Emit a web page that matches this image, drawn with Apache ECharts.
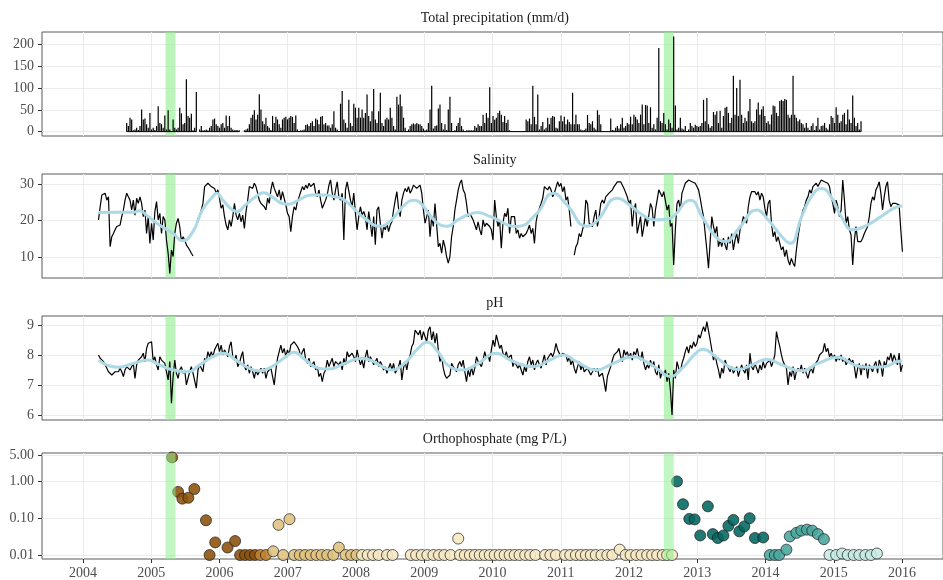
<!DOCTYPE html>
<html><head><meta charset="utf-8">
<script src="https://cdn.jsdelivr.net/npm/echarts@6/dist/echarts.min.js"></script>
<style>html,body{margin:0;padding:0;background:#fff}#chart{width:943px;height:580px}</style>
</head><body><div id="chart"></div>
<script>
// ---------------- data ----------------
const yearTicks = [2004,2005,2006,2007,2008,2009,2010,2011,2012,2013,2014,2015,2016];
const panelTitles = ['Total precipitation (mm/d)', 'Salinity', 'pH', 'Orthophosphate (mg P/L)'];
const precipTicks = [0, 50, 100, 150, 200];
const salinityTicks = [10, 20, 30];
const phTicks = [6, 7, 8, 9];
const phosTicks = [0.01, 0.1, 1, 5];

// storm event windows (decimal years)
const eventStart = [2005.21, 2012.51];
const eventEnd = [2005.355, 2012.655];

// regular sampling of the daily records (years between samples, ~8.9 days)
const sampleStep = 0.024284;

const precipStart = 2004.641;
const precip = [
20,13,32,28,3,5,9,4,13,51,
28,30,17,9,43,5,9,4,13,58,
20,17,9,37,5,49,5,1.5,28,9,
5,9,55,42,17,20,120,36,32,41,
3,9,91,null,5,13,3,3,5,3,
9,13,28,30,17,13,9,17,20,9,
37,13,36,9,5,3,4,3,3,null,
null,3,5,7,17,32,39,49,28,39,
86,51,24,17,32,13,9,4,36,20,
34,28,17,9,28,32,34,28,32,36,
34,20,37,5,1.5,3,3,5,15,17,
13,20,24,13,30,27,17,34,36,17,
20,14,14,9,17,47,9,5,1.5,64,
93,28,20,9,73,20,13,64,55,32,
55,32,51,32,43,85,36,24,47,98,
28,20,47,89,20,13,28,32,28,55,
32,13,5,80,62,85,58,32,9,1.5,
5,13,17,19,17,20,17,17,13,7,
3,5,20,51,105,7,13,14,53,62,
20,5,17,4,51,80,20,1.5,3,13,
20,32,13,5,1.5,3,3,3,3,3,
13,9,17,
13,13,39,20,43,32,102,20,36,27,32,43,48,39,22,36,20,27,3,
1.5,1.5,1.5,1.5,1.5,1.5,1.5,1.5,1.5,
28,24,30,17,105,34,17,85,5,13,
22,5,9,32,17,32,36,34,9,7,
24,37,24,34,17,28,22,17,89,17,
39,17,17,5,3,4,7,38,20,17,
24,9,5,49,
39,17,1.5,1.5,1.5,1.5,1.5,30,4,3,
9,13,7,17,32,9,13,20,17,34,
17,39,34,28,20,39,62,17,61,60,
20,56,9,17,5,32,192,24,20,43,
17,5,28,20,9,218,60,5,9,32,
7,5,13,1.5,5,20,13,9,16,13,
11,13,20,73,24,77,17,9,13,45,
39,47,20,48,9,36,55,57,43,20,
32,128,39,100,36,119,39,20,32,24,
47,75,24,20,24,51,67,39,51,58,
36,20,24,17,39,60,58,43,36,70,
73,70,75,73,39,32,39,128,39,32,
24,28,20,17,9,20,9,4,13,19,
4,13,32,5,13,14,20,9,5,17,
36,32,20,56,39,20,24,39,43,17,
51,28,20,83,32,13,20,5,24
];

const salinityStart = 2004.228;
const salinity = [
20.2,23.8,27.0,26.5,27.5,25.6,26.5,12.9,15.6,16.5,
17.5,18.4,17.9,18.8,21.1,22.9,25.6,27.5,26.5,25.6,
22.9,25.6,21.5,26.1,24.7,26.5,24.7,21.1,22.9,16.5,
21.1,13.8,19.3,14.7,22.5,25.2,20.2,22.0,16.5,21.1,
20.2,14.7,11.1,5.6,12.0,10.2,16.5,19.3,20.6,18.4,
14.3,15.6,14.7,13.4,12.9,12.0,11.1,10.4,null,18.8,
20.6,21.5,22.9,24.7,29.3,28.8,30.2,30.6,29.3,29.7,
28.8,27.5,28.4,26.1,23.4,24.3,21.1,18.8,17.5,20.2,
18.4,21.1,24.7,21.5,20.2,22.0,19.7,21.5,17.9,22.5,
25.6,29.3,29.7,28.8,30.2,29.3,27.5,25.6,24.7,25.2,
23.8,22.9,26.1,24.7,28.4,30.6,28.8,29.3,26.5,28.4,
25.6,27.9,27.5,24.3,22.0,21.1,17.0,21.1,23.8,22.9,
25.2,26.5,27.9,29.3,28.4,29.7,28.8,30.2,29.3,28.8,
30.2,27.5,26.5,28.4,25.6,23.4,22.9,25.6,27.0,29.7,
31.1,27.5,25.6,28.4,30.6,26.5,25.6,27.5,14.7,28.4,
30.6,31.1,25.6,23.8,27.5,22.0,17.5,21.1,23.8,21.5,
22.5,21.1,17.5,22.5,19.3,15.6,21.1,13.4,22.9,23.8,
19.3,15.2,18.4,17.5,19.3,17.0,18.8,19.7,22.9,25.6,
27.9,23.4,21.1,25.6,27.5,28.8,27.9,29.3,27.5,28.4,
29.7,29.3,28.8,28.4,29.7,27.5,22.9,19.3,18.8,22.9,
15.6,21.1,18.4,24.7,25.2,12.9,13.8,11.1,14.7,12.9,
10.2,8.4,10.2,15.6,18.4,22.9,25.6,28.4,30.2,31.1,
28.4,27.5,24.7,21.1,22.0,21.1,20.2,19.7,17.5,19.7,
17.5,16.1,20.2,18.4,19.3,19.7,18.4,17.5,14.7,25.6,
21.1,18.4,20.2,12.5,19.3,22.0,21.1,23.4,16.5,21.1,
21.5,21.1,16.5,17.5,15.2,16.5,15.6,16.1,16.5,17.5,
18.8,16.5,17.9,13.8,19.7,22.0,23.4,24.7,26.1,29.3,
29.7,28.4,29.3,28.4,26.5,27.5,27.9,30.6,29.3,30.2,
27.9,29.3,25.6,26.5,22.9,18.4,null,10.6,12.9,13.8,
16.5,15.6,17.5,19.3,25.6,24.7,19.3,19.7,18.4,21.1,
22.9,18.4,21.1,24.7,25.6,24.7,26.5,27.0,27.5,27.0,
28.4,29.3,29.7,30.6,31.1,30.6,30.2,28.8,29.3,26.5,
24.7,25.6,18.4,22.9,24.7,16.5,17.0,21.1,15.6,16.1,
21.1,18.4,21.5,24.7,23.4,18.4,22.9,25.6,28.4,27.5,
26.5,27.9,27.5,22.9,24.3,18.4,19.3,7.9,17.5,24.7,
25.6,22.9,27.5,28.8,30.2,30.6,31.1,31.1,30.6,30.6,
30.2,29.3,28.4,26.1,23.4,21.1,16.5,12.0,7.0,14.3,
21.1,18.4,16.5,18.4,12.9,14.7,12.9,15.2,13.4,12.0,
15.6,13.8,16.5,12.0,14.7,16.5,13.8,17.5,18.8,21.1,
21.1,19.3,23.8,26.5,27.9,27.5,27.9,27.0,27.9,25.6,
27.5,26.5,23.4,21.1,24.7,25.6,19.3,15.6,17.0,14.3,
15.6,13.8,12.0,12.9,10.2,12.0,9.3,7.9,9.7,8.4,
7.5,12.0,15.6,18.4,21.1,22.9,23.8,25.6,26.5,28.4,
27.5,29.3,28.8,30.2,29.3,30.2,31.1,31.5,30.6,31.1,
30.2,29.3,26.5,24.7,22.0,25.6,23.8,21.1,22.9,31.1,
25.6,19.3,21.1,17.5,16.1,7.9,14.7,18.4,14.3,14.7,
14.3,15.2,16.5,16.5,18.4,21.1,24.7,26.5,25.6,28.4,
29.3,30.6,27.5,22.9,26.5,29.3,30.6,25.6,23.8,24.7,
24.3,24.7,24.3,24.3,17.5,11.5
];

const phStart = 2004.228;
const ph = [
8.00,7.89,7.94,7.78,7.67,7.56,7.44,7.50,7.33,7.39,
7.44,7.50,7.44,7.56,7.44,7.28,7.50,7.61,7.67,7.50,
7.61,7.72,7.22,7.67,7.83,7.78,7.94,8.06,7.78,8.22,
8.39,8.33,8.44,7.78,7.94,7.67,7.50,7.94,7.83,7.89,
7.72,7.44,7.17,7.78,6.39,7.28,7.83,7.39,7.22,7.50,
7.61,7.39,7.50,7.00,7.22,7.44,7.61,7.39,7.33,6.89,
7.50,7.67,7.72,7.44,7.89,7.78,8.11,7.94,8.11,7.94,
8.17,8.28,8.39,8.11,8.33,8.00,8.17,8.06,7.94,8.28,
8.44,7.94,7.83,8.00,7.61,7.72,7.94,8.11,7.61,7.50,
7.67,7.39,7.61,7.44,7.22,7.50,7.33,7.44,7.56,7.39,
7.56,7.22,7.44,7.39,7.56,7.61,7.00,7.50,7.89,8.11,
8.33,8.06,8.22,7.94,8.17,8.00,8.33,8.28,8.44,8.50,
8.28,8.17,7.94,8.11,8.22,7.83,7.72,7.89,7.61,7.67,
7.78,7.50,7.61,7.28,7.39,7.11,7.39,7.50,7.83,7.61,
7.67,7.89,7.61,7.78,7.83,7.67,7.78,7.50,7.89,7.67,
8.11,7.94,8.00,8.06,7.94,7.78,8.17,7.89,7.67,7.83,
7.56,7.94,8.17,7.78,7.94,8.00,7.67,7.78,7.89,7.61,
7.78,7.67,7.50,7.61,7.39,7.56,7.72,7.50,7.72,7.39,
7.50,7.61,7.83,7.17,7.56,7.78,7.50,7.83,8.00,8.28,
8.39,8.83,8.89,8.67,8.83,8.50,8.78,8.72,8.44,8.83,
8.94,8.50,8.78,8.39,8.72,8.17,7.78,7.94,7.56,7.33,
7.22,7.28,7.33,7.72,7.61,7.61,7.44,7.67,7.78,7.61,
7.83,7.44,7.11,7.50,7.28,7.61,7.33,7.56,7.94,7.78,
7.78,7.61,7.83,8.11,7.89,8.00,7.78,8.17,8.50,8.28,
8.67,8.72,8.22,8.33,8.06,7.94,8.11,7.89,7.83,8.00,
7.61,7.78,7.72,7.56,7.67,7.50,7.33,7.61,7.44,7.78,
7.94,7.67,7.83,7.50,7.72,7.83,7.67,7.56,7.78,8.00,
7.67,7.89,7.89,8.06,7.94,8.11,8.39,8.17,8.22,7.94,
8.06,8.06,8.00,7.78,7.94,7.67,7.83,7.56,7.39,7.61,
7.78,7.50,7.67,7.44,7.50,7.56,7.61,7.33,7.44,7.56,
7.44,7.56,7.28,7.33,7.39,7.11,6.78,7.28,7.33,7.61,
7.83,8.00,7.94,8.11,8.22,7.94,7.78,8.17,8.00,8.11,
7.89,8.06,7.83,8.11,8.00,8.22,7.94,7.83,8.11,7.72,
7.50,7.67,7.56,7.83,7.61,7.78,7.44,7.33,7.67,7.22,
7.44,7.33,7.50,7.11,7.39,6.83,6.00,7.50,7.22,7.78,
7.56,7.44,7.72,7.89,8.11,8.28,8.06,8.33,8.22,8.44,
8.28,8.39,8.67,8.56,8.78,8.94,8.78,9.11,9.17,8.50,
8.17,7.83,8.00,7.72,7.50,7.22,7.56,7.39,7.83,7.67,
7.72,7.44,7.61,7.39,7.50,7.61,7.28,7.50,7.67,7.50,
7.39,7.67,7.17,8.06,7.61,7.50,7.72,7.56,7.39,7.67,
7.50,7.78,7.56,7.72,7.67,7.83,7.61,7.78,8.00,8.78,
8.50,8.28,8.00,7.78,7.83,7.56,7.00,7.44,7.28,7.61,
7.17,7.44,7.56,7.44,7.67,7.39,7.56,7.50,7.22,7.44,
7.56,7.39,7.67,7.72,7.83,8.00,7.94,8.11,8.39,8.11,
8.22,7.94,8.06,7.89,8.00,7.78,7.94,7.83,8.00,7.78,
7.89,7.67,7.78,7.89,7.72,7.83,7.61,7.22,7.56,7.72,
7.33,7.67,7.50,7.72,7.22,7.67,7.61,7.44,7.67,7.78,
7.39,7.83,7.67,7.28,7.78,7.61,7.94,7.83,8.06,7.78,
8.00,7.94,7.67,8.06,7.44,7.67
];

// smoothed trends (light blue curves)
const salinityTrendYears = [2004.23,2004.49,2004.74,2004.83,2004.93,2005.12,2005.32,2005.46,2005.61,2005.75,2005.90,2005.96,2006.05,2006.19,2006.26,2006.38,2006.53,2006.65,2006.77,2006.92,2007.02,2007.16,2007.35,2007.55,2007.69,2007.79,2007.94,2008.13,2008.35,2008.52,2008.71,2008.86,2008.95,2009.10,2009.24,2009.34,2009.49,2009.63,2009.78,2009.97,2010.36,2010.65,2010.89,2011.09,2011.38,2011.52,2011.83,2012.01,2012.20,2012.40,2012.59,2012.90,2013.07,2013.27,2013.41,2013.61,2013.87,2014.04,2014.24,2014.36,2014.53,2014.67,2014.82,2014.96,2015.11,2015.28,2015.45,2015.69,2015.93,2016.0];
const salinityTrend = [22.2,22.3,22.3,22.7,21.5,18.8,16.5,14.5,17.0,22.9,26.5,27.5,25.6,22.9,22.5,24.3,26.5,27.6,26.5,24.7,24.5,25.6,27.0,27.0,26.5,26.1,23.8,20.6,18.5,20.2,24.3,25.6,24.7,21.1,18.8,18.5,20.2,21.5,22.2,21.1,18.4,22.0,27.5,24.3,18.5,19.7,26.1,24.3,21.5,20.2,20.6,25.6,21.1,15.6,14.3,17.9,22.9,20.2,15.6,13.8,21.1,26.5,28.8,26.5,21.1,17.5,18.4,21.1,23.8,24.0];
const phTrendYears = [2004.23,2004.35,2004.52,2004.74,2004.95,2005.12,2005.32,2005.54,2005.71,2005.90,2006.07,2006.24,2006.43,2006.58,2006.77,2006.97,2007.09,2007.26,2007.45,2007.60,2007.84,2008.08,2008.23,2008.37,2008.52,2008.71,2008.91,2009.04,2009.20,2009.34,2009.56,2009.78,2010.06,2010.26,2010.60,2010.84,2011.04,2011.23,2011.52,2011.77,2012.06,2012.25,2012.44,2012.60,2012.78,2012.98,2013.08,2013.27,2013.46,2013.61,2013.80,2014.02,2014.24,2014.53,2014.77,2015.06,2015.30,2015.50,2015.74,2015.93,2016.0];
const phTrend = [7.83,7.67,7.59,7.72,7.83,7.67,7.50,7.44,7.67,7.94,8.06,7.83,7.56,7.47,7.61,7.94,8.09,7.83,7.56,7.53,7.72,7.89,7.81,7.63,7.50,7.72,8.22,8.42,8.11,7.67,7.50,7.70,8.06,7.83,7.61,7.83,8.00,7.78,7.50,7.72,7.94,7.78,7.50,7.28,7.56,8.06,8.19,7.94,7.61,7.52,7.67,7.86,7.67,7.47,7.72,7.92,7.67,7.59,7.61,7.78,7.80];

// orthophosphate grab samples
const phosYears = [2005.306,2005.394,2005.457,2005.544,2005.632,2005.802,2005.855,2005.938,2006.118,2006.229,
2006.302,2006.375,2006.448,2006.521,2006.598,2006.681,2006.788,2006.865,2006.933,2007.026,
2007.094,2007.176,2007.254,2007.337,2007.419,2007.497,2007.579,2007.667,2007.749,2007.847,
2007.929,2008.007,2008.089,2008.172,2008.250,2008.332,2008.454,2008.536,2008.803,2008.881,
2008.964,2009.046,2009.134,2009.216,2009.294,2009.386,2009.498,2009.522,2009.595,2009.668,
2009.741,2009.813,2009.886,2009.959,2010.032,2010.105,2010.178,2010.251,2010.324,2010.396,
2010.479,2010.552,2010.629,2010.770,2010.848,2010.930,2011.062,2011.139,2011.222,2011.295,
2011.368,2011.440,2011.513,2011.596,2011.683,2011.756,2011.863,2011.950,2012.023,2012.106,
2012.184,2012.266,2012.339,2012.412,2012.494,2012.558,2012.630,
2012.703,2012.791,2012.883,2012.961,2013.043,2013.155,2013.228,2013.301,2013.383,2013.456,
2013.529,2013.616,2013.689,2013.767,2013.845,2013.966,2014.063,2014.136,2014.199,2014.306,
2014.355,2014.452,2014.524,2014.607,2014.685,2014.767,2014.855,2014.937,2015.034,2015.122,
2015.204,2015.292,2015.374,2015.462,2015.544,2015.632];
const phosValues = [4.5,0.52,0.34,0.36,0.62,0.088,0.01,0.022,0.016,0.024,
0.01,0.01,0.01,0.01,0.01,0.01,0.0126,0.066,0.01,0.094,
0.01,0.01,0.01,0.01,0.01,0.01,0.01,0.01,0.016,0.01,
0.01,0.01,0.01,0.01,0.01,0.01,0.01,0.01,0.01,0.01,
0.01,0.01,0.01,0.01,0.01,0.01,0.028,0.01,0.01,0.01,
0.01,0.01,0.01,0.01,0.01,0.01,0.01,0.01,0.01,0.01,
0.01,0.01,0.01,0.01,0.01,0.01,0.01,0.01,0.01,0.01,
0.01,0.01,0.01,0.01,0.01,0.01,0.014,0.01,0.01,0.01,
0.01,0.01,0.01,0.01,0.01,0.01,0.01,
1.0,0.24,0.096,0.093,0.034,0.21,0.037,0.029,0.034,0.062,
0.090,0.044,0.060,0.10,0.029,0.030,0.01,0.01,0.01,0.014,
0.032,0.040,0.046,0.049,0.046,0.037,0.027,0.01,0.01,0.011,
0.01,0.01,0.01,0.01,0.01,0.011];

// ---------------- chart ----------------
const FONT = 'Liberation Serif';
const X0 = 2003.4, X1 = 2016.6;
const gridLeft = 42, gridWidth = 905.6;
const boxes = [{top: 32, height: 104}, {top: 174, height: 104}, {top: 316, height: 104}, {top: 453, height: 107}];
const titleY = [18.3, 160, 303, 439.3];

function sampled(start, arr) {
  return arr.map((v, i) => [+(start + i * sampleStep).toFixed(4), v == null ? '-' : v]);
}
function zip(xs, ys) { return xs.map((x, i) => [x, ys[i]]); }
function phosColor(t) {
  if (t < 2006.56) return '#8c510a';
  if (t < 2006.76) return '#bf812d';
  if (t < 2008.05) return '#dfc27d';
  if (t < 2012.67) return '#f6e8c3';
  if (t < 2014.02) return '#01665e';
  if (t < 2014.9) return '#48a69c';
  return '#c7eae5';
}
const bandData = eventStart.map((s, i) => [{xAxis: s}, {xAxis: eventEnd[i]}]);

const grids = boxes.map(b => ({left: gridLeft, top: b.top, width: gridWidth, height: b.height,
  show: true, borderColor: '#5a5a5a', borderWidth: 1, backgroundColor: 'transparent'}));

const xAxes = boxes.map((b, i) => ({
  type: 'value', gridIndex: i, min: X0, max: X1,
  axisLine: {show: false},
  axisTick: {show: i === 3, length: 4, lineStyle: {color: '#333'}, customValues: yearTicks},
  axisLabel: {show: i === 3, customValues: yearTicks, formatter: v => String(Math.round(v)),
    color: '#4d4d4d', fontFamily: FONT, fontSize: 14, margin: 7},
  splitLine: {show: true, lineStyle: {color: '#ebebeb', width: 1}}
}));

function yAxis(i, extra, ticks, fmt) {
  return Object.assign({
    gridIndex: i, type: 'value',
    axisLine: {show: false},
    axisTick: {show: true, length: 4, lineStyle: {color: '#333'}, customValues: ticks},
    axisLabel: {customValues: ticks, formatter: fmt, color: '#4d4d4d', fontFamily: FONT, fontSize: 14, margin: 8},
    splitLine: {show: true, lineStyle: {color: '#ebebeb', width: 1}}
  }, extra);
}
const yAxes = [
  yAxis(0, {min: -10, max: 228.5}, precipTicks, v => String(v)),
  yAxis(1, {min: 4.35, max: 32.73}, salinityTicks, v => String(v)),
  yAxis(2, {min: 5.83, max: 9.3}, phTicks, v => String(v)),
  yAxis(3, {type: 'log', logBase: 10, min: 0.0078, max: 5.92}, phosTicks, v => Number(v).toFixed(2))
];

const band = (color, z) => ({silent: true, z: z, label: {show: false}, itemStyle: {color: color}, data: bandData});
const precipData = sampled(precipStart, precip);
const precipActive = precipData.map(p => [p[0], p[1] === '-' ? '-' : 0]);

const series = [
  {type: 'line', xAxisIndex: 0, yAxisIndex: 0, data: precipActive, showSymbol: false,
   lineStyle: {color: '#000', width: 1}, itemStyle: {color: '#000'}, markArea: band('rgba(144,238,144,0.6)', 1)},
  {type: 'bar', xAxisIndex: 0, yAxisIndex: 0, data: precipData, barWidth: 1.2,
   itemStyle: {color: '#000'}},
  {type: 'line', xAxisIndex: 1, yAxisIndex: 1, data: sampled(salinityStart, salinity), showSymbol: false,
   lineStyle: {color: '#000', width: 1.2}, itemStyle: {color: '#000'}, markArea: band('rgba(144,238,144,0.6)', 1)},
  {type: 'line', xAxisIndex: 1, yAxisIndex: 1, data: zip(salinityTrendYears, salinityTrend), showSymbol: false,
   smooth: true, z: 3, lineStyle: {color: '#add8e6', width: 3}, itemStyle: {color: '#add8e6'}},
  {type: 'line', xAxisIndex: 2, yAxisIndex: 2, data: sampled(phStart, ph), showSymbol: false,
   lineStyle: {color: '#000', width: 1.2}, itemStyle: {color: '#000'}, markArea: band('rgba(144,238,144,0.6)', 1)},
  {type: 'line', xAxisIndex: 2, yAxisIndex: 2, data: zip(phTrendYears, phTrend), showSymbol: false,
   smooth: true, z: 3, lineStyle: {color: '#add8e6', width: 3}, itemStyle: {color: '#add8e6'}},
  {type: 'scatter', xAxisIndex: 3, yAxisIndex: 3, symbol: 'circle', symbolSize: 11,
   data: zip(phosYears, phosValues).map(p => ({value: p, itemStyle: {color: phosColor(p[0])}})),
   itemStyle: {borderColor: '#1a1a1a', borderWidth: 0.8, opacity: 0.88}},
  {type: 'scatter', xAxisIndex: 3, yAxisIndex: 3, data: [], z: 10, markArea: band('rgba(144,238,144,0.55)', 10)}
];

const graphics = panelTitles.map((t, i) => ({
  type: 'text', x: gridLeft + gridWidth / 2, y: titleY[i], silent: true,
  style: {text: t, fill: '#1a1a1a', font: '14px "' + FONT + '"', align: 'center', verticalAlign: 'middle'}
}));

const chart = echarts.init(document.getElementById('chart'), null, {renderer: 'canvas', width: 943, height: 580});
chart.setOption({
  animation: false,
  backgroundColor: '#ffffff',
  textStyle: {fontFamily: FONT},
  grid: grids, xAxis: xAxes, yAxis: yAxes, series: series, graphic: graphics
});
</script>
</body></html>
